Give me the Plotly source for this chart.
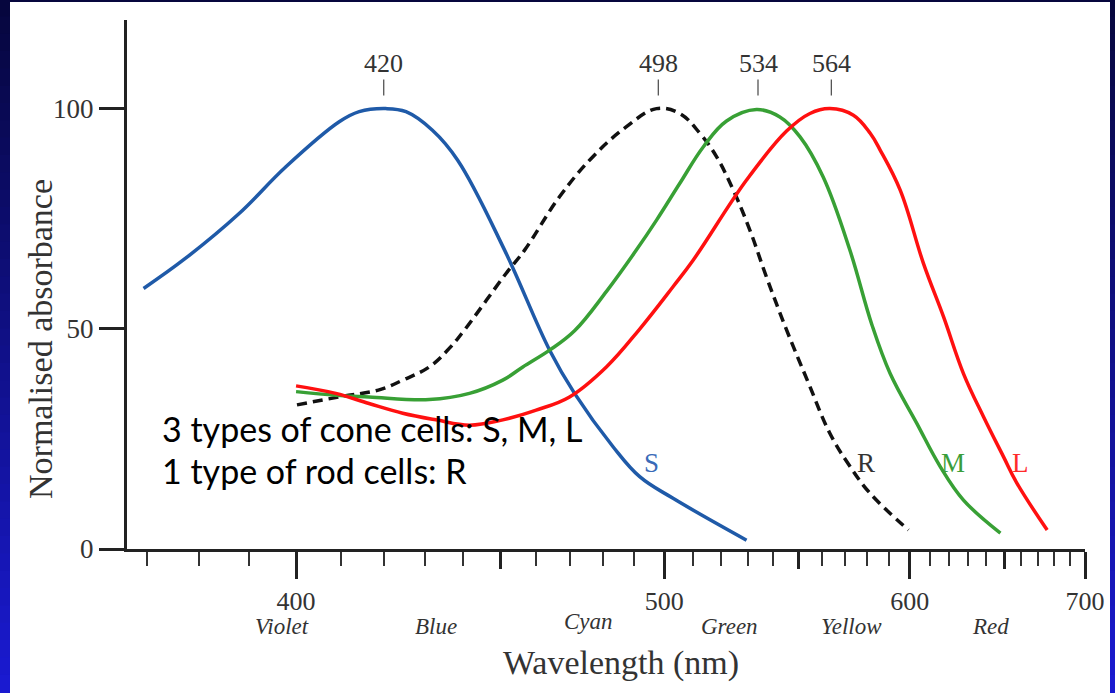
import plotly.graph_objects as go

# ---------------- data (wavelength in nm, normalised absorbance in %) ----------------
s_nm = [369.4, 377.3, 388.0, 397.8, 409.6, 414.2, 420.5, 425.4, 432.0, 438.5, 451.1, 463.9, 471.3, 483.2, 491.8, 503.0, 529.6]
s_val = [59.1, 65.9, 76.1, 86.7, 96.9, 99.2, 99.9, 99.2, 95.0, 88.2, 67.8, 45.1, 35.3, 23.2, 16.4, 11.5, 2.0]

r_nm = [400.2, 409.6, 418.9, 424.6, 431.2, 436.3, 440.3, 451.5, 456.7, 466.8, 476.9, 487.5, 497.4, 505.3, 512.4,
        518.4, 524.6, 530.9, 537.3, 545.3, 554.1, 563.4, 572.2, 581.3, 599.4]
r_val = [32.7, 34.5, 36.1, 38.3, 41.3, 45.5, 49.7, 62.5, 67.8, 79.9, 89.0, 95.8, 99.9, 98.8, 94.3,
         89.0, 81.4, 72.3, 61.7, 49.7, 37.9, 26.2, 18.7, 12.6, 4.3]

m_nm = [400.0, 408.8, 416.5, 431.2, 441.6, 450.6, 456.2, 463.9, 471.3, 481.2, 490.7, 497.4, 505.3, 513.6, 522.1,
        533.4, 542.6, 550.8, 560.5, 572.0, 582.0, 590.6, 603.5, 615.3, 627.5, 647.9]
m_val = [35.7, 34.9, 34.5, 33.9, 35.3, 38.3, 41.3, 45.1, 49.5, 58.5, 67.8, 74.6, 82.9, 91.2, 97.1,
         99.7, 98.0, 93.5, 84.4, 68.0, 51.0, 39.8, 28.5, 18.7, 11.1, 3.6]

l_nm = [400.0, 408.8, 416.5, 424.6, 432.9, 441.6, 450.6, 460.0, 469.8, 481.1, 491.8, 503.0, 510.0, 529.6, 545.3,
        554.9, 563.4, 573.7, 581.3, 585.9, 595.4, 606.8, 617.0, 627.5, 638.4, 649.7, 657.5, 675.7]
l_val = [37.0, 35.3, 33.0, 30.8, 29.3, 28.1, 29.3, 31.5, 34.5, 41.3, 49.9, 59.5, 65.5, 83.7, 94.8,
         98.8, 99.9, 98.4, 94.3, 90.5, 81.4, 64.8, 52.7, 39.8, 30.0, 20.9, 14.9, 4.3]

peaks_nm = [420, 498, 534, 564]

curve_names = ["S", "R", "M", "L"]
curve_label_nm = [495.8, 579.4, 622.1, 659.5]
curve_label_val = [19.5, 19.5, 19.5, 19.5]

band_names = ["Violet", "Blue", "Cyan", "Green", "Yellow", "Red"]
band_nm = [397.0, 432.9, 475.5, 523.0, 572.8, 642.3]

major_ticks_nm = [400, 500, 600, 700]
medium_ticks_nm = [450, 550, 650]
minor_ticks_nm = [v for v in range(370, 700, 10) if v % 50 != 0]

note_lines = ["3 types of cone cells: S, M, L", "1 type of rod cells: R"]


# x axis is linear in 1/wavelength (as in the original figure)
def inv(nm):
    return 1000.0 / nm


W, H = 1115, 693
ML, MR, MT, MB = 127, 30, 20, 144
PW, PH = W - ML - MR, H - MT - MB


def px_x(px):
    return (px - ML) / PW


def px_y(py):
    return (H - MB - py) / PH


X_LEFT = 2.7296
X_RIGHT = inv(700)

SERIF = "Liberation Serif"
col_S, col_R, col_M, col_L = "#1f5aa8", "#111111", "#38a035", "#ff1010"
lab_cols = ["#3a6ab8", "#333333", "#3a9e3a", "#ff2a2a"]

fig = go.Figure()
for xs, ys, c, dash in [(s_nm, s_val, col_S, "solid"), (r_nm, r_val, col_R, "10px,6px"),
                        (m_nm, m_val, col_M, "solid"), (l_nm, l_val, col_L, "solid")]:
    fig.add_trace(go.Scatter(x=[inv(v) for v in xs], y=ys, mode="lines",
                             line=dict(color=c, width=3.5, shape="spline", smoothing=1.1, dash=dash),
                             hoverinfo="skip", showlegend=False))

# empty trace on the overlay axis that carries the medium ticks
fig.add_trace(go.Scatter(x=[], y=[], xaxis="x2", yaxis="y", showlegend=False, hoverinfo="skip"))

# ---------------- background (slide gradient + white panel) ----------------
shapes = []
nb = 40
top = (6, 6, 60)
bot = (26, 26, 210)
for i in range(nb):
    t = (i + 0.5) / nb
    c = tuple(int(round(top[k] + (bot[k] - top[k]) * t)) for k in range(3))
    y0 = i * H / nb
    y1 = (i + 1) * H / nb
    shapes.append(dict(type="rect", xref="paper", yref="paper", layer="below",
                       x0=px_x(-2), x1=px_x(W + 2), y0=px_y(y1 + 1), y1=px_y(y0 - 1),
                       line=dict(width=0), fillcolor="rgb(%d,%d,%d)" % c))
shapes.append(dict(type="rect", xref="paper", yref="paper", layer="below",
                   x0=px_x(10), x1=px_x(1110), y0=px_y(H + 5), y1=px_y(2),
                   line=dict(width=0), fillcolor="white"))

annotations = []
# peak markers
for p in peaks_nm:
    annotations.append(dict(x=inv(p), y=102.9, xref="x", yref="y", text=str(p), showarrow=True,
                            arrowhead=0, arrowwidth=1.3, arrowcolor="#555", ax=0, ay=-32,
                            standoff=0, font=dict(family=SERIF, size=26, color="#333")))
# curve labels
for name, nm, v, c in zip(curve_names, curve_label_nm, curve_label_val, lab_cols):
    annotations.append(dict(x=inv(nm), y=v, xref="x", yref="y", text=name, showarrow=False,
                            xanchor="center", yanchor="middle",
                            font=dict(family=SERIF, size=27, color=c)))
# colour band names
band_y = [626, 626, 621, 626, 626, 626]
for name, nm, py in zip(band_names, band_nm, band_y):
    annotations.append(dict(x=inv(nm), y=px_y(py), xref="x", yref="paper", text="<i>%s</i>" % name,
                            xanchor="center", yanchor="middle",
                            showarrow=False, font=dict(family=SERIF, size=23, color="#333")))
# axis titles
annotations.append(dict(x=px_x(621), y=px_y(663), xref="paper", yref="paper", text="Wavelength (nm)",
                        xanchor="center", yanchor="middle",
                        showarrow=False, font=dict(family=SERIF, size=34, color="#333")))
annotations.append(dict(x=px_x(40), y=px_y(339), xref="paper", yref="paper", text="Normalised absorbance",
                        xanchor="center", yanchor="middle",
                        textangle=-90, showarrow=False, font=dict(family=SERIF, size=34, color="#333")))
# notes
for txt, py in zip(note_lines, [428, 470]):
    annotations.append(dict(x=px_x(160), y=px_y(py), xref="paper", yref="paper", text=txt,
                            xanchor="left", yanchor="middle", showarrow=False,
                            font=dict(family="Lato", size=34, color="black")))

fig.update_layout(
    template="none",
    width=W, height=H,
    margin=dict(l=ML, r=MR, t=MT, b=MB, pad=0),
    paper_bgcolor="rgb(10,10,80)",
    plot_bgcolor="rgba(0,0,0,0)",
    showlegend=False,
    shapes=shapes,
    annotations=annotations,
    xaxis=dict(range=[X_LEFT, X_RIGHT], showgrid=False, zeroline=False, showline=True,
               linecolor="#222", linewidth=3, ticks="outside", ticklen=27, tickwidth=2.5, tickcolor="#222",
               tickmode="array", tickvals=[inv(v) for v in major_ticks_nm],
               ticktext=[str(v) for v in major_ticks_nm],
               tickfont=dict(family=SERIF, size=26, color="#333"),
               minor=dict(tickmode="array", tickvals=[inv(v) for v in minor_ticks_nm], ticks="outside",
                          ticklen=14, tickwidth=2, tickcolor="#333", showgrid=False)),
    xaxis2=dict(range=[X_LEFT, X_RIGHT], overlaying="x", anchor="y", side="bottom", showgrid=False,
                zeroline=False, showline=False, ticks="outside", ticklen=19, tickwidth=2.5, tickcolor="#222",
                tickmode="array", tickvals=[inv(v) for v in medium_ticks_nm], showticklabels=False),
    yaxis=dict(range=[0, 120], showgrid=False, zeroline=False, showline=True, linecolor="#222", linewidth=3,
               ticks="outside", ticklen=25, tickwidth=3, tickcolor="#222", tickmode="array",
               tickvals=[0, 50, 100], tickfont=dict(family=SERIF, size=27, color="#333")),
)

fig.write_html("out.html", config={"displayModeBar": False},
               post_script="document.body.style.margin='0px';document.body.style.overflow='hidden';")
